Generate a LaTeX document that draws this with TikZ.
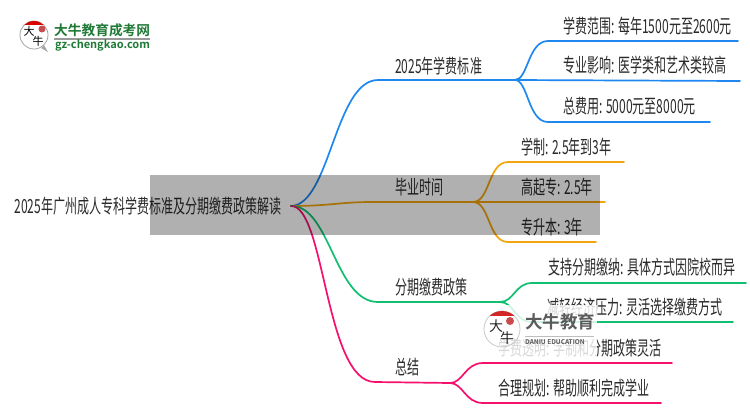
\documentclass[tikz,border=0pt]{standalone}
\usepackage{fontspec}
\setmainfont{Noto Sans CJK SC}
\newfontfamily\cnfont{Noto Sans CJK SC}[FakeStretch=0.62]
\newfontfamily\cnlogo{Noto Sans CJK SC}[BoldFont={Noto Sans CJK SC Bold}]
\definecolor{cblue}{HTML}{1E88F0}
\definecolor{cgold}{HTML}{F2A50C}
\definecolor{cgreen}{HTML}{10C070}
\definecolor{cpink}{HTML}{F5106E}
\definecolor{cinkk}{HTML}{2A2A2A}
\definecolor{logogreen}{HTML}{1F7A36}
\tikzset{
  lab/.style={anchor=west,inner sep=0pt,text=cinkk,font=\cnfont\fontsize{19.4}{19}\selectfont},
  wire/.style={line width=1.7pt,line cap=round},
}
\begin{document}
\begin{tikzpicture}[x=1pt,y=-1pt]
\useasboundingbox (0,0) rectangle (750,410);
\fill[white] (0,0) rectangle (750,410);
% text
\node[lab,anchor=east,inner xsep=9pt] (root) at (291,206) {2025年广州成人专科学费标准及分期缴费政策解读};
\node[lab] (b1) at (395,66) {2025年学费标准};
\node[lab] (b2) at (395,187) {毕业时间};
\node[lab] (b3) at (395,287) {分期缴费政策};
\node[lab] (b4) at (395,367) {总结};
\node[lab] (a1) at (563,26) {学费范围: 每年1500元至2600元};
\node[lab] (a2) at (563,65) {专业影响: 医学类和艺术类较高};
\node[lab] (a3) at (563,106) {总费用: 5000元至8000元};
\node[lab] (c1) at (521,147) {学制: 2.5年到3年};
\node[lab] (c2) at (521,187) {高起专: 2.5年};
\node[lab] (c3) at (521,227) {专升本: 3年};
\node[lab] (d1) at (548,267) {支持分期缴纳: 具体方式因院校而异};
\node[lab] (d2) at (547,307) {减轻经济压力: 灵活选择缴费方式};
\node[lab] (e1) at (498,348) {学费透明: 学制和分期政策灵活};
\node[lab] (e2) at (498,388) {合理规划: 帮助顺利完成学业};
% junctions and free ends
\coordinate (hub) at (root.east);
\coordinate (j1) at (515,80);
\coordinate (j2) at (473,202);
\coordinate (j3) at (500,302);
\coordinate (j4) at (450,383);
\coordinate (a1e) at (738,41);
\coordinate (a2e) at (740,81);
\coordinate (a3e) at (710,122);
\coordinate (c1e) at (624,162);
\coordinate (c2e) at (605,202);
\coordinate (c3e) at (596,242);
\coordinate (d1e) at (746,283);
\coordinate (d2e) at (733,322);
\coordinate (e1e) at (672,363);
\coordinate (e2e) at (661,403);
% connectors
\draw[wire,cblue] (hub) .. controls (330,205) and (335,80) .. (378,80) -- (j1);
\draw[wire,cblue] (j1) .. controls (528,80) and (528,41) .. (548,41) -- (a1e);
\draw[wire,cblue] (j1) -- (a2e);
\draw[wire,cblue] (j1) .. controls (528,80) and (528,122) .. (548,122) -- (a3e);
\draw[wire,cgold] (hub) .. controls (330,206) and (340,202) .. (372,202) -- (j2);
\draw[wire,cgold] (j2) .. controls (490,202) and (488,162) .. (508,162) -- (c1e);
\draw[wire,cgold] (j2) -- (c2e);
\draw[wire,cgold] (j2) .. controls (490,202) and (488,242) .. (508,242) -- (c3e);
\draw[wire,cgreen] (hub) .. controls (330,205) and (335,302) .. (378,302) -- (j3);
\draw[wire,cgreen] (j3) .. controls (514,302) and (515,283) .. (532,283) -- (d1e);
\draw[wire,cgreen] (j3) .. controls (514,302) and (515,322) .. (532,322) -- (d2e);
\draw[wire,cpink] (hub) .. controls (325,205) and (325,382) .. (375,382) -- (j4);
\draw[wire,cpink] (j4) .. controls (463,383) and (465,363) .. (483,363) -- (e1e);
\draw[wire,cpink] (j4) .. controls (463,383) and (465,403) .. (483,403) -- (e2e);
% grey veil
\fill[black,opacity=.31] (150,175) rectangle (600,235);
% top-left logo
\fill[black!35] (41,48) -- (48,52) -- (44,45) -- cycle;
\draw[black!35,fill=white,line width=.8pt] (34,35) circle (14);
\begin{scope}
\clip (34,35) circle (14);
\fill[red!85!black] (18,20) rectangle (50,25);
\end{scope}
\fill[red!70!black,opacity=.7] (42,29) circle (3.5);
\node[inner sep=0pt,font=\cnlogo\fontsize{11}{11}\selectfont] (t1) at (29,31) {大};
\node[inner sep=0pt,font=\cnlogo\fontsize{11}{11}\selectfont] (t2) at (38,41) {牛};
\node[anchor=west,inner sep=0pt,text=logogreen,font=\cnlogo\bfseries\fontsize{13.7}{14}\selectfont] (lg1) at (54,30) {大牛教育成考网};
\fill[black!40] (54,38) rectangle (150,39.5);
\node[anchor=west,inner sep=0pt,text=logogreen,font=\cnlogo\bfseries\fontsize{11}{11}\selectfont] (lg2) at (55,45) {gz-chengkao.com};
% lower watermark
\fill[white,opacity=.82] (482,305) rectangle (597,362);
\begin{scope}[opacity=.85]
\draw[black!25,line width=.8pt] (502,329) circle (18);
\begin{scope}
\clip (502,329) circle (18);
\fill[red!80!black,opacity=.85] (484,309) rectangle (520,316);
\end{scope}
\fill[red!70!black,opacity=.7] (510,321) circle (4);
\node[inner sep=0pt,font=\cnlogo\fontsize{14}{14}\selectfont] (t3) at (496,326) {大};
\node[inner sep=0pt,font=\cnlogo\fontsize{14}{14}\selectfont] (t4) at (507,338) {牛};
\node[anchor=west,inner sep=0pt,text=black!75,font=\cnlogo\bfseries\fontsize{17.5}{18}\selectfont] (lg3) at (525,322) {大牛教育};
\fill[black!30] (525,336) rectangle (594,337);
\node[anchor=west,inner sep=0pt,text=black!75,font=\cnlogo\bfseries\fontsize{6.5}{7}\selectfont] (lg4) at (525,342) {DANIU EDUCATION};
\end{scope}
\end{tikzpicture}
\end{document}
